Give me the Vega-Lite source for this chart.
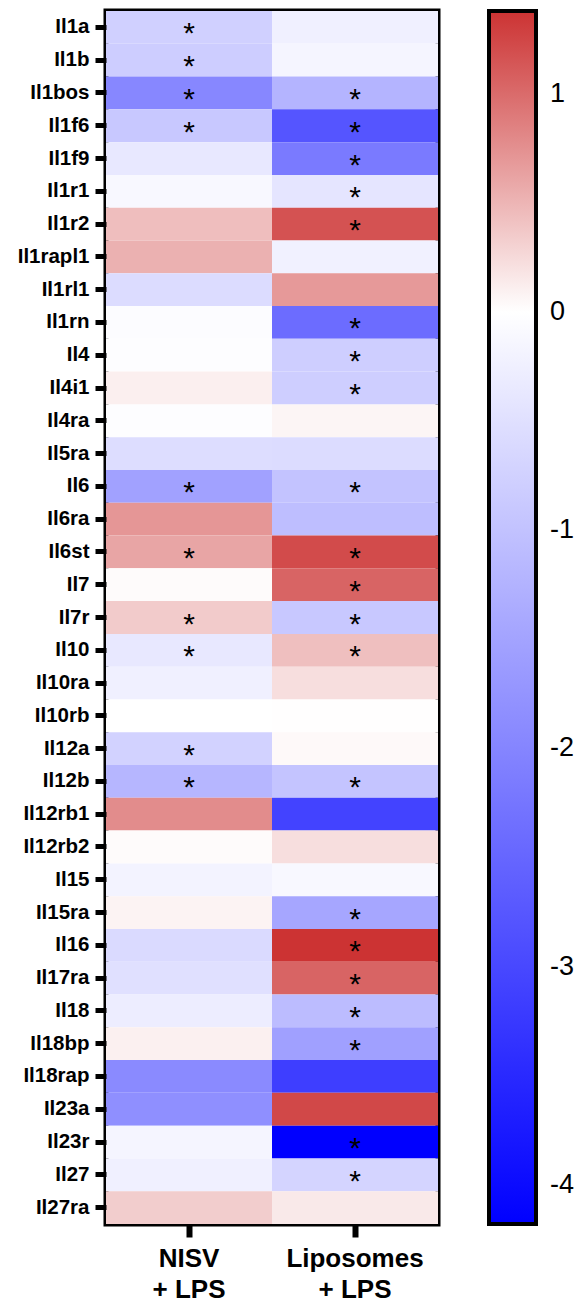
{
  "$schema": "https://vega.github.io/schema/vega-lite/v6.json",
  "width": 332,
  "height": 1213,
  "padding": {"left": 17, "top": 11, "right": 0, "bottom": 0},
  "background": "white",
  "config": {
    "font": "Liberation Sans",
    "view": {"stroke": "black", "strokeWidth": 5},
    "axis": {"domain": false, "grid": false, "tickColor": "black", "labelColor": "black", "labelFont": "Liberation Sans", "labelFontWeight": "bold", "title": null}
  },
  "data": {"values": [
    {"gene": "Il1a", "group": "NISV|+ LPS", "value": -0.77, "sig": "*"},
    {"gene": "Il1b", "group": "NISV|+ LPS", "value": -0.82, "sig": "*"},
    {"gene": "Il1bos", "group": "NISV|+ LPS", "value": -1.97, "sig": "*"},
    {"gene": "Il1f6", "group": "NISV|+ LPS", "value": -0.9, "sig": "*"},
    {"gene": "Il1f9", "group": "NISV|+ LPS", "value": -0.38, "sig": ""},
    {"gene": "Il1r1", "group": "NISV|+ LPS", "value": -0.11, "sig": ""},
    {"gene": "Il1r2", "group": "NISV|+ LPS", "value": 0.44, "sig": ""},
    {"gene": "Il1rapl1", "group": "NISV|+ LPS", "value": 0.53, "sig": ""},
    {"gene": "Il1rl1", "group": "NISV|+ LPS", "value": -0.57, "sig": ""},
    {"gene": "Il1rn", "group": "NISV|+ LPS", "value": -0.05, "sig": ""},
    {"gene": "Il4", "group": "NISV|+ LPS", "value": -0.04, "sig": ""},
    {"gene": "Il4i1", "group": "NISV|+ LPS", "value": 0.11, "sig": ""},
    {"gene": "Il4ra", "group": "NISV|+ LPS", "value": -0.03, "sig": ""},
    {"gene": "Il5ra", "group": "NISV|+ LPS", "value": -0.56, "sig": ""},
    {"gene": "Il6", "group": "NISV|+ LPS", "value": -1.54, "sig": "*"},
    {"gene": "Il6ra", "group": "NISV|+ LPS", "value": 0.71, "sig": ""},
    {"gene": "Il6st", "group": "NISV|+ LPS", "value": 0.61, "sig": "*"},
    {"gene": "Il7", "group": "NISV|+ LPS", "value": 0.03, "sig": ""},
    {"gene": "Il7r", "group": "NISV|+ LPS", "value": 0.35, "sig": "*"},
    {"gene": "Il10", "group": "NISV|+ LPS", "value": -0.38, "sig": "*"},
    {"gene": "Il10ra", "group": "NISV|+ LPS", "value": -0.25, "sig": ""},
    {"gene": "Il10rb", "group": "NISV|+ LPS", "value": 0.0, "sig": ""},
    {"gene": "Il12a", "group": "NISV|+ LPS", "value": -0.74, "sig": "*"},
    {"gene": "Il12b", "group": "NISV|+ LPS", "value": -1.2, "sig": "*"},
    {"gene": "Il12rb1", "group": "NISV|+ LPS", "value": 0.78, "sig": ""},
    {"gene": "Il12rb2", "group": "NISV|+ LPS", "value": 0.03, "sig": ""},
    {"gene": "Il15", "group": "NISV|+ LPS", "value": -0.2, "sig": ""},
    {"gene": "Il15ra", "group": "NISV|+ LPS", "value": 0.08, "sig": ""},
    {"gene": "Il16", "group": "NISV|+ LPS", "value": -0.6, "sig": ""},
    {"gene": "Il17ra", "group": "NISV|+ LPS", "value": -0.5, "sig": ""},
    {"gene": "Il18", "group": "NISV|+ LPS", "value": -0.3, "sig": ""},
    {"gene": "Il18bp", "group": "NISV|+ LPS", "value": 0.1, "sig": ""},
    {"gene": "Il18rap", "group": "NISV|+ LPS", "value": -1.92, "sig": ""},
    {"gene": "Il23a", "group": "NISV|+ LPS", "value": -1.84, "sig": ""},
    {"gene": "Il23r", "group": "NISV|+ LPS", "value": -0.16, "sig": ""},
    {"gene": "Il27", "group": "NISV|+ LPS", "value": -0.25, "sig": ""},
    {"gene": "Il27ra", "group": "NISV|+ LPS", "value": 0.34, "sig": ""},
    {"gene": "Il1a", "group": "Liposomes|+ LPS", "value": -0.25, "sig": ""},
    {"gene": "Il1b", "group": "Liposomes|+ LPS", "value": -0.16, "sig": ""},
    {"gene": "Il1bos", "group": "Liposomes|+ LPS", "value": -1.23, "sig": "*"},
    {"gene": "Il1f6", "group": "Liposomes|+ LPS", "value": -2.79, "sig": "*"},
    {"gene": "Il1f9", "group": "Liposomes|+ LPS", "value": -2.18, "sig": "*"},
    {"gene": "Il1r1", "group": "Liposomes|+ LPS", "value": -0.43, "sig": "*"},
    {"gene": "Il1r2", "group": "Liposomes|+ LPS", "value": 1.17, "sig": "*"},
    {"gene": "Il1rapl1", "group": "Liposomes|+ LPS", "value": -0.23, "sig": ""},
    {"gene": "Il1rl1", "group": "Liposomes|+ LPS", "value": 0.69, "sig": ""},
    {"gene": "Il1rn", "group": "Liposomes|+ LPS", "value": -2.41, "sig": "*"},
    {"gene": "Il4", "group": "Liposomes|+ LPS", "value": -0.8, "sig": "*"},
    {"gene": "Il4i1", "group": "Liposomes|+ LPS", "value": -0.8, "sig": "*"},
    {"gene": "Il4ra", "group": "Liposomes|+ LPS", "value": 0.07, "sig": ""},
    {"gene": "Il5ra", "group": "Liposomes|+ LPS", "value": -0.57, "sig": ""},
    {"gene": "Il6", "group": "Liposomes|+ LPS", "value": -0.98, "sig": "*"},
    {"gene": "Il6ra", "group": "Liposomes|+ LPS", "value": -1.07, "sig": ""},
    {"gene": "Il6st", "group": "Liposomes|+ LPS", "value": 1.22, "sig": "*"},
    {"gene": "Il7", "group": "Liposomes|+ LPS", "value": 1.05, "sig": "*"},
    {"gene": "Il7r", "group": "Liposomes|+ LPS", "value": -0.9, "sig": "*"},
    {"gene": "Il10", "group": "Liposomes|+ LPS", "value": 0.43, "sig": "*"},
    {"gene": "Il10ra", "group": "Liposomes|+ LPS", "value": 0.22, "sig": ""},
    {"gene": "Il10rb", "group": "Liposomes|+ LPS", "value": 0.01, "sig": ""},
    {"gene": "Il12a", "group": "Liposomes|+ LPS", "value": 0.04, "sig": ""},
    {"gene": "Il12b", "group": "Liposomes|+ LPS", "value": -0.97, "sig": "*"},
    {"gene": "Il12rb1", "group": "Liposomes|+ LPS", "value": -3.08, "sig": ""},
    {"gene": "Il12rb2", "group": "Liposomes|+ LPS", "value": 0.22, "sig": ""},
    {"gene": "Il15", "group": "Liposomes|+ LPS", "value": -0.11, "sig": ""},
    {"gene": "Il15ra", "group": "Liposomes|+ LPS", "value": -1.46, "sig": "*"},
    {"gene": "Il16", "group": "Liposomes|+ LPS", "value": 1.38, "sig": "*"},
    {"gene": "Il17ra", "group": "Liposomes|+ LPS", "value": 1.05, "sig": "*"},
    {"gene": "Il18", "group": "Liposomes|+ LPS", "value": -1.1, "sig": "*"},
    {"gene": "Il18bp", "group": "Liposomes|+ LPS", "value": -1.56, "sig": "*"},
    {"gene": "Il18rap", "group": "Liposomes|+ LPS", "value": -3.16, "sig": ""},
    {"gene": "Il23a", "group": "Liposomes|+ LPS", "value": 1.24, "sig": ""},
    {"gene": "Il23r", "group": "Liposomes|+ LPS", "value": -4.18, "sig": "*"},
    {"gene": "Il27", "group": "Liposomes|+ LPS", "value": -0.7, "sig": "*"},
    {"gene": "Il27ra", "group": "Liposomes|+ LPS", "value": 0.15, "sig": ""}
  ]},
  "encoding": {
    "x": {"field": "group", "type": "nominal", "sort": null,
      "scale": {"paddingInner": 0, "paddingOuter": 0},
      "axis": {"labelAngle": 0, "labelFontSize": 26, "labelLineHeight": 31, "labelPadding": 8, "tickSize": 13, "tickWidth": 6, "labelExpr": "split(datum.label, '|')"}},
    "y": {"field": "gene", "type": "nominal", "sort": null,
      "scale": {"paddingInner": 0, "paddingOuter": 0},
      "axis": {"labelFontSize": 20.5, "labelPadding": 6, "tickSize": 11, "tickWidth": 5}}
  },
  "layer": [
    {
      "mark": {"type": "rect"},
      "encoding": {
        "color": {"field": "value", "type": "quantitative",
          "scale": {"domain": [-4.18, 0, 1.38], "range": ["#0000ff", "#ffffff", "#cc3333"], "interpolate": "rgb"},
          "legend": {"title": null, "values": [-4, -3, -2, -1, 0, 1], "labelExpr": "datum.value < 0 ? '-' + abs(datum.value) : '' + datum.value", "gradientLength": 1213, "gradientThickness": 47, "gradientStrokeColor": "black", "gradientStrokeWidth": 4, "labelFontSize": 27, "labelColor": "black", "labelFont": "Liberation Sans", "labelOffset": 14, "labelOverlap": false, "offset": 51, "padding": 0, "direction": "vertical"}}
      }
    },
    {
      "mark": {"type": "text", "fontSize": 30, "color": "black", "baseline": "alphabetic", "dy": 16, "font": "Liberation Sans"},
      "encoding": {"text": {"field": "sig", "type": "nominal"}}
    }
  ]
}
